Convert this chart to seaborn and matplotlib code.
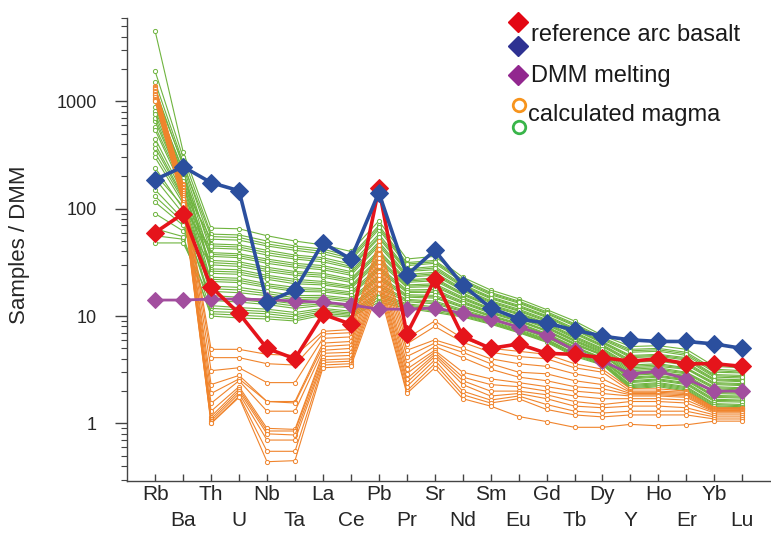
import matplotlib

matplotlib.use("Agg")
import matplotlib.pyplot as plt
import matplotlib.ticker as mticker
import pandas as pd
import seaborn as sns

elements = ["Rb", "Ba", "Th", "U", "Nb", "Ta", "La", "Ce", "Pb", "Pr", "Sr",
            "Nd", "Sm", "Eu", "Gd", "Tb", "Dy", "Y", "Ho", "Er", "Yb", "Lu"]

reference_arc_basalt = [60, 90, 18.7, 10.6, 5.0, 4.0, 10.4, 8.4, 155, 6.8, 22,
                        6.5, 5.0, 5.5, 4.5, 4.4, 4.1, 3.8, 4.0, 3.6, 3.6, 3.4]
reference_arc_basalt_2 = [187, 246, 175, 147, 13.5, 17.5, 48, 34, 141, 24, 41,
                          19.5, 11.9, 9.4, 8.6, 7.4, 6.5, 6.0, 5.8, 5.8, 5.5, 5.0]
dmm_melting = [14.1, 14.1, 14.4, 14.4, 14.2, 13.8, 13.5, 12.7, 11.6, 11.6, 11.9,
               10.6, 9.4, 7.9, 6.6, 4.8, 3.8, 2.9, 3.06, 2.6, 2.0, 2.0]

# calculated magmas, green family (one row per run)
green_runs_upper = [
    [4500, 340, 66, 65, 56, 50, 46, 40, 77, 34, 36, 23, 17.5, 14.5, 11.5, 9, 6.6, 5.2, 5.3, 4.9, 3.4, 3.3],
    [1900, 300, 58, 57, 50, 45, 42, 36, 70, 31.5, 33, 21.8, 16.6, 13.8, 11, 8.5, 6.3, 4.9, 5.0, 4.6, 3.2, 3.1],
    [650, 165, 52, 51, 45, 41, 38, 33, 64, 29.5, 31, 20.7, 15.8, 13.2, 10.5, 8.1, 6.0, 4.6, 4.7, 4.3, 3.0, 2.95],
    [1500, 270, 47, 46, 41, 37, 35, 30.5, 58, 27.5, 29, 19.7, 15.1, 12.6, 10.1, 7.7, 5.8, 4.3, 4.4, 4.1, 2.85, 2.8],
    [240, 100, 43, 42, 37, 34, 32, 28, 53, 26, 27, 18.8, 14.5, 12.1, 9.7, 7.4, 5.6, 4.1, 4.2, 3.9, 2.7, 2.65],
    [1300, 250, 39, 38, 34, 31, 29.5, 26, 49, 24.5, 25.5, 18, 13.9, 11.6, 9.3, 7.1, 5.4, 3.9, 4.0, 3.7, 2.6, 2.55],
    [450, 138, 36, 35, 31, 28.5, 27, 24, 45, 23, 24, 17.2, 13.3, 11.1, 8.9, 6.8, 5.2, 3.7, 3.8, 3.5, 2.5, 2.45],
    [1000, 230, 33, 32, 28.5, 26, 25, 22.2, 41, 21.8, 22.6, 16.4, 12.8, 10.7, 8.6, 6.5, 5.0, 3.5, 3.6, 3.3, 2.4, 2.35],
    [150, 80, 30, 29, 26, 24, 23, 20.6, 38, 20.6, 21.3, 15.7, 12.3, 10.3, 8.3, 6.2, 4.8, 3.3, 3.4, 3.2, 2.3, 2.25],
    [880, 210, 27.5, 27, 24, 22, 21, 19.2, 35, 19.5, 20, 15, 11.8, 9.9, 8, 6, 4.7, 3.2, 3.3, 3.0, 2.2, 2.15],
]
green_runs_lower = [
    [1150, 195, 25, 24.5, 22, 20, 19.5, 18, 32, 18.5, 18.8, 14.3, 11.4, 9.5, 7.7, 5.8, 4.5, 3.0, 3.1, 2.9, 2.1, 2.05],
    [90, 62, 23, 22.5, 20, 18.5, 18, 16.8, 29, 17.5, 17.7, 13.7, 11, 9.2, 7.4, 5.6, 4.4, 2.9, 3.0, 2.8, 2.0, 1.95],
    [760, 180, 21, 20.5, 18.5, 17, 16.8, 15.7, 26.5, 16.6, 16.6, 13.1, 10.6, 8.9, 7.2, 5.4, 4.3, 2.8, 2.9, 2.7, 1.9, 1.87],
    [370, 125, 19, 18.5, 17, 15.5, 15.6, 14.6, 24, 15.8, 15.6, 12.5, 10.2, 8.6, 6.9, 5.2, 4.1, 2.7, 2.8, 2.6, 1.82, 1.8],
    [540, 150, 17, 16.5, 15.5, 14.2, 14.5, 13.6, 22, 15, 14.7, 12, 9.9, 8.3, 6.7, 5, 4.0, 2.6, 2.7, 2.5, 1.75, 1.72],
    [300, 112, 15.5, 15, 14, 13, 13.5, 12.7, 20, 14.3, 13.8, 11.5, 9.6, 8, 6.5, 4.8, 3.9, 2.5, 2.6, 2.4, 1.68, 1.65],
    [48, 48, 14, 13.5, 12.8, 11.8, 12.6, 11.9, 18, 13.6, 13, 11, 9.3, 7.7, 6.3, 4.7, 3.8, 2.4, 2.5, 2.3, 1.6, 1.58],
    [190, 90, 12.5, 12, 11.6, 10.8, 11.8, 11.1, 16.5, 13, 12.2, 10.6, 9, 7.5, 6.1, 4.5, 3.7, 2.3, 2.4, 2.2, 1.53, 1.5],
    [115, 70, 11, 10.8, 10.5, 9.8, 11, 10.4, 15, 12.4, 11.5, 10.2, 8.7, 7.2, 5.9, 4.4, 3.6, 2.2, 2.3, 2.1, 1.46, 1.43],
    [65, 55, 10, 9.6, 9.4, 9.0, 10.2, 9.8, 13.5, 11.8, 10.8, 9.8, 8.4, 7.0, 5.7, 4.2, 3.5, 2.1, 2.2, 2.0, 1.4, 1.36],
]
green_runs_extra = [
    [1200, 260, 55, 54, 47, 43, 40, 34.5, 67, 30.5, 32, 21.2, 16.2, 13.5, 10.7, 8.3, 6.15, 4.75, 4.85, 4.45, 3.1, 3.0],
    [820, 200, 45, 44, 39, 35.5, 33.5, 29, 55, 26.8, 28, 19.2, 14.8, 12.3, 9.9, 7.5, 5.7, 4.2, 4.3, 4.0, 2.78, 2.72],
    [580, 160, 37.5, 36.5, 32.5, 29.7, 28.2, 25, 47, 23.7, 24.7, 17.6, 13.6, 11.3, 9.1, 6.95, 5.3, 3.8, 3.9, 3.6, 2.55, 2.5],
    [330, 120, 31.5, 30.5, 27.2, 25, 24, 21.4, 39.5, 21.2, 22, 16, 12.5, 10.5, 8.45, 6.35, 4.9, 3.4, 3.5, 3.25, 2.35, 2.3],
    [1050, 220, 26.2, 25.7, 23, 21, 20.2, 18.6, 33.5, 19, 19.4, 14.6, 11.6, 9.7, 7.85, 5.9, 4.6, 3.1, 3.2, 2.95, 2.15, 2.1],
    [210, 105, 22, 21.5, 19.2, 17.7, 17.4, 16.2, 27.7, 17, 17.1, 13.4, 10.8, 9.05, 7.3, 5.5, 4.35, 2.85, 2.95, 2.75, 1.95, 1.91],
    [700, 170, 18, 17.5, 16.2, 14.8, 15, 14.1, 23, 15.4, 15.1, 12.2, 10, 8.45, 6.8, 5.1, 4.05, 2.65, 2.75, 2.55, 1.78, 1.76],
    [130, 75, 14.7, 14.2, 13.4, 12.4, 13, 12.3, 19, 14, 13.4, 11.2, 9.45, 7.85, 6.4, 4.75, 3.85, 2.45, 2.55, 2.35, 1.64, 1.62],
    [400, 130, 11.8, 11.4, 11, 10.3, 11.4, 10.7, 15.7, 12.7, 11.8, 10.4, 8.85, 7.35, 6, 4.45, 3.65, 2.25, 2.35, 2.15, 1.5, 1.46],
    [56, 52, 10.5, 10.2, 9.9, 9.4, 10.6, 10.1, 14.2, 12.1, 11.1, 10, 8.55, 7.1, 5.8, 4.3, 3.55, 2.15, 2.25, 2.05, 1.43, 1.4],
]

# calculated magmas, orange family
orange_runs = [
    [1400, 170, 4.9, 4.9, 4.4, 4.3, 7.2, 7.5, 50, 6.2, 9.0, 6.2, 5.0, 4.7, 4.4, 3.6, 3.2, 2.1, 2.1, 2.0, 1.4, 1.4],
    [1370, 165, 4.1, 4.1, 3.6, 3.5, 6.8, 7.0, 46, 5.5, 8.0, 5.7, 4.6, 4.2, 4.0, 3.3, 3.0, 2.0, 2.0, 1.95, 1.38, 1.38],
    [1340, 160, 3.1, 3.3, 2.4, 2.4, 6.2, 6.4, 42, 4.8, 6.0, 5.0, 4.0, 3.6, 3.4, 2.9, 2.6, 1.95, 1.95, 1.9, 1.36, 1.36],
    [1300, 155, 2.3, 2.8, 1.6, 1.6, 5.6, 5.8, 38, 4.2, 5.6, 4.6, 3.6, 3.0, 2.9, 2.5, 2.3, 1.9, 1.9, 1.85, 1.34, 1.34],
    [1260, 150, 1.9, 2.6, 1.6, 1.55, 5.2, 5.4, 35, 3.6, 5.2, 4.1, 3.2, 2.7, 2.5, 2.2, 2.1, 1.85, 1.85, 1.8, 1.32, 1.32],
    [1220, 145, 1.54, 2.5, 1.3, 1.3, 4.8, 5.0, 32, 3.2, 4.8, 3.0, 2.6, 2.4, 2.2, 2.0, 1.9, 1.8, 1.8, 1.75, 1.3, 1.3],
    [1180, 140, 1.3, 2.2, 0.9, 0.88, 4.5, 4.6, 29, 2.9, 4.6, 2.7, 2.3, 2.2, 2.0, 1.8, 1.7, 1.7, 1.7, 1.65, 1.28, 1.28],
    [1140, 135, 1.16, 2.1, 0.85, 0.85, 4.2, 4.3, 26, 2.6, 4.4, 2.5, 2.0, 2.0, 1.85, 1.6, 1.5, 1.6, 1.6, 1.55, 1.25, 1.25],
    [1100, 128, 1.1, 2.0, 0.8, 0.78, 3.9, 4.0, 24, 2.4, 4.2, 2.3, 1.8, 1.9, 1.7, 1.45, 1.4, 1.45, 1.45, 1.4, 1.2, 1.2],
    [1060, 122, 1.05, 1.9, 0.7, 0.7, 3.7, 3.8, 22, 2.2, 3.9, 2.0, 1.65, 1.8, 1.5, 1.3, 1.25, 1.3, 1.3, 1.3, 1.15, 1.15],
    [1030, 116, 1.0, 1.8, 0.55, 0.55, 3.5, 3.6, 20, 2.0, 3.6, 1.85, 1.55, 1.7, 1.35, 1.2, 1.15, 1.2, 1.2, 1.2, 1.1, 1.1],
    [1000, 110, 1.0, 1.75, 0.44, 0.45, 3.3, 3.4, 18, 1.9, 3.3, 1.7, 1.45, 1.16, 1.04, 0.92, 0.92, 0.98, 0.95, 0.97, 1.05, 1.05],
]

GREEN = "#6fb43f"
ORANGE = "#f0842c"
RED = "#e5141b"
BLUE = "#2b4f9e"
PURPLE = "#a24e9e"


def runs_frame(runs: list[list[float]]) -> pd.DataFrame:
    records = []
    for run_id, values in enumerate(runs):
        for pos, value in enumerate(values):
            records.append({"run": run_id, "pos": pos, "value": value})
    return pd.DataFrame(records)


def series_frame(values: list[float]) -> pd.DataFrame:
    return pd.DataFrame({"pos": range(len(values)), "value": values})


sns.set_style("ticks")
plt.rcParams["font.family"] = ["Liberation Sans", "DejaVu Sans"]

fig = plt.figure(figsize=(7.71, 5.40), dpi=100)
ax = fig.add_axes([0.165, 0.109, 0.834, 0.858])

thin = dict(units="run", estimator=None, sort=False, legend=False, ax=ax,
            lw=0.8, marker="o", markersize=3, markeredgewidth=0.7,
            markerfacecolor="white")
green_df = runs_frame(green_runs_upper + green_runs_extra + green_runs_lower)
sns.lineplot(data=green_df, x="pos", y="value", color=GREEN,
             markeredgecolor=GREEN, zorder=2, **thin)
sns.lineplot(data=runs_frame(orange_runs), x="pos", y="value", color=ORANGE,
             markeredgecolor=ORANGE, zorder=2.5, **thin)

thick = dict(sort=False, legend=False, ax=ax, marker="D")
sns.lineplot(data=series_frame(dmm_melting), x="pos", y="value", color=PURPLE,
             lw=2.0, markersize=8, markeredgecolor=PURPLE, zorder=4, **thick)
sns.lineplot(data=series_frame(reference_arc_basalt), x="pos", y="value", color=RED,
             lw=2.6, markersize=9, markeredgecolor=RED, zorder=5, **thick)
sns.lineplot(data=series_frame(reference_arc_basalt_2), x="pos", y="value", color=BLUE,
             lw=2.6, markersize=9, markeredgecolor=BLUE, zorder=6, **thick)

ax.set_yscale("log")
ax.set_ylim(0.29, 6000)
ax.set_xlim(-1, 22)

ax.yaxis.set_major_locator(mticker.FixedLocator([1, 10, 100, 1000]))
ax.yaxis.set_major_formatter(mticker.FixedFormatter(["1", "10", "100", "1000"]))
ax.yaxis.set_minor_locator(mticker.LogLocator(base=10, subs=range(2, 10)))
ax.yaxis.set_minor_formatter(mticker.NullFormatter())
ax.tick_params(axis="y", which="major", direction="out", length=9, width=1,
               pad=13, labelsize=13, color="#444444")
ax.tick_params(axis="y", which="minor", direction="out", length=4.5, width=0.8,
               color="#444444")

ax.set_xticks(range(len(elements)))
ax.set_xticklabels(elements)
ax.tick_params(axis="x", direction="in", length=5, width=1, pad=3,
               labelsize=15, color="#444444")
for i, tick in enumerate(ax.xaxis.get_major_ticks()):
    if i % 2:
        tick.set_pad(21.5)

ax.set_xlabel("")
ax.set_ylabel("Samples / DMM", fontsize=16)
ax.yaxis.set_label_coords(-0.151, 0.51)

for side in ["top", "right"]:
    ax.spines[side].set_visible(False)
for side in ["left", "bottom"]:
    ax.spines[side].set_color("#444444")
    ax.spines[side].set_linewidth(1.0)

# legend drawn by hand: stacked markers beside each label
leg = dict(transform=ax.transAxes, clip_on=False, linestyle="none", zorder=10)
ax.plot([0.608], [0.991], marker="D", markersize=10, color="#e30613", **leg)
ax.plot([0.608], [0.940], marker="D", markersize=10, color="#2e3192", **leg)
ax.plot([0.608], [0.877], marker="D", markersize=10, color="#92278f", **leg)
ax.plot([0.609], [0.812], marker="o", markersize=9, markerfacecolor="white",
        markeredgecolor="#f7941d", markeredgewidth=2, **leg)
ax.plot([0.609], [0.765], marker="o", markersize=9, markerfacecolor="white",
        markeredgecolor="#39b54a", markeredgewidth=2, **leg)
ax.text(0.628, 0.963, "reference arc basalt", transform=ax.transAxes,
        fontsize=17, va="center", ha="left", color="#1a1a1a")
ax.text(0.628, 0.875, "DMM melting", transform=ax.transAxes,
        fontsize=17, va="center", ha="left", color="#1a1a1a")
ax.text(0.624, 0.790, "calculated magma", transform=ax.transAxes,
        fontsize=17, va="center", ha="left", color="#1a1a1a")

fig.savefig("out.png", dpi=100)
